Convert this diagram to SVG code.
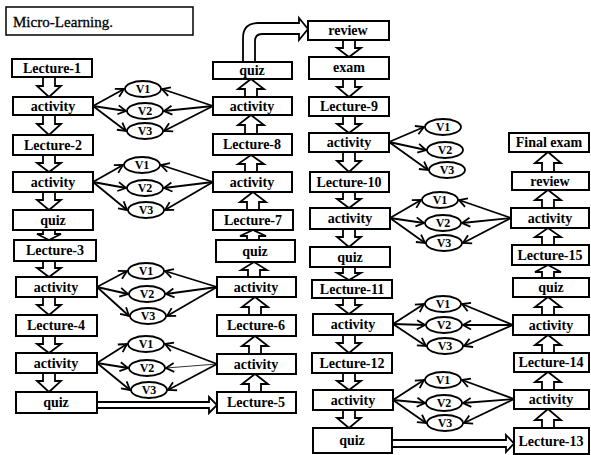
<svg xmlns="http://www.w3.org/2000/svg" width="591" height="455" viewBox="0 0 591 455">
<style>
.box{fill:#fff;stroke:#000;stroke-width:2}
.ell{fill:#fff;stroke:#000;stroke-width:1.8}
.t{font-family:"Liberation Serif","Times New Roman",serif;font-weight:bold;font-size:14px;text-anchor:middle;fill:#000}
.tv{font-family:"Liberation Serif","Times New Roman",serif;font-weight:bold;font-size:12px;text-anchor:middle;fill:#000}
.title{font-family:"Liberation Serif","Times New Roman",serif;font-size:15px;fill:#000;stroke:#000;stroke-width:0.3}
.blk{fill:#fff;stroke:#000;stroke-width:1.8;stroke-linejoin:miter}
.con{stroke:#000;stroke-width:1.8;fill:none;marker-end:url(#ah)}
.thin{stroke-width:0.8}
</style>
<defs>
<marker id="ah" markerUnits="userSpaceOnUse" markerWidth="12" markerHeight="12" refX="10" refY="6" orient="auto">
<path d="M2,1.5 L10,6 L2,10.5" fill="none" stroke="#000" stroke-width="1.8"/>
</marker>
</defs>
<g id="connectors">
<path class="blk" d="M43,77 V86 H37 L49,97 L61,86 H55 V77"/>
<path class="blk" d="M43,115 V124 H37 L49,135 L61,124 H55 V115"/>
<path class="blk" d="M43,155 V163 H37 L49,172 L61,163 H55 V155"/>
<path class="blk" d="M43,192 V200 H37 L49,210 L61,200 H55 V192"/>
<path class="blk" d="M43,230 V234 H37 L49,240 L61,234 H55 V230"/>
<path class="blk" d="M43,261 V268 H37 L49,277 L61,268 H55 V261"/>
<path class="blk" d="M43,297 V305 H37 L49,315 L61,305 H55 V297"/>
<path class="blk" d="M43,336 V344 H37 L49,353 L61,344 H55 V336"/>
<path class="blk" d="M43,373 V381 H37 L49,392 L61,381 H55 V373"/>
<path class="blk" d="M245,97 V89 H238 L251,79 L264,89 H257 V97"/>
<path class="blk" d="M245,134 V125 H238 L251,115 L264,125 H257 V134"/>
<path class="blk" d="M245,172 V164 H238 L251,155 L264,164 H257 V172"/>
<path class="blk" d="M247,210 V202 H240 L253,192 L266,202 H259 V210"/>
<path class="blk" d="M247,240 V236 H240 L253,230 L266,236 H259 V240"/>
<path class="blk" d="M248,277 V270 H241 L254,262 L267,270 H260 V277"/>
<path class="blk" d="M249,315 V307 H242 L255,297 L268,307 H261 V315"/>
<path class="blk" d="M249,354 V346 H242 L255,336 L268,346 H261 V354"/>
<path class="blk" d="M249,392 V384 H242 L255,374 L268,384 H261 V392"/>
<path class="blk" d="M343,40 V48 H337 L349,57 L361,48 H355 V40"/>
<path class="blk" d="M343,79 V87 H337 L349,97 L361,87 H355 V79"/>
<path class="blk" d="M343,116 V124 H337 L349,133 L361,124 H355 V116"/>
<path class="blk" d="M343,152 V161 H337 L349,172 L361,161 H355 V152"/>
<path class="blk" d="M343,192 V199 H337 L349,208 L361,199 H355 V192"/>
<path class="blk" d="M343,229 V237 H337 L349,247 L361,237 H355 V229"/>
<path class="blk" d="M343,267 V273 H337 L349,280 L361,273 H355 V267"/>
<path class="blk" d="M343,298 V305 H337 L349,314 L361,305 H355 V298"/>
<path class="blk" d="M343,335 V343 H337 L349,353 L361,343 H355 V335"/>
<path class="blk" d="M343,373 V381 H337 L349,390 L361,381 H355 V373"/>
<path class="blk" d="M343,410 V418 H337 L349,428 L361,418 H355 V410"/>
<path class="blk" d="M542,172 V163 H535 L548,152 L561,163 H554 V172"/>
<path class="blk" d="M542,208 V200 H535 L548,190 L561,200 H554 V208"/>
<path class="blk" d="M542,245 V237 H535 L548,228 L561,237 H554 V245"/>
<path class="blk" d="M542,278 V272 H535 L548,265 L561,272 H554 V278"/>
<path class="blk" d="M542,315 V307 H535 L548,297 L561,307 H554 V315"/>
<path class="blk" d="M542,353 V345 H535 L548,335 L561,345 H554 V353"/>
<path class="blk" d="M542,390 V382 H535 L548,372 L561,382 H554 V390"/>
<path class="blk" d="M542,428 V420 H535 L548,409 L561,420 H554 V428"/>
<path class="blk" d="M243,62 V38 Q243,23 258,23 H299 V18 L308,29 L299,40 V34 H262 Q255,34 255,41 V62"/>
<path class="blk" d="M97,402 H209 V397 L217,405 L209,413 V408 H97"/>
<path class="blk" d="M392,440 H506 V435 L514,443.5 L506,452 V447 H392"/>
<line class="con" x1="93" y1="106" x2="124" y2="89"/>
<line class="con" x1="93" y1="106" x2="126" y2="111"/>
<line class="con" x1="93" y1="106" x2="126" y2="131"/>
<line class="con" x1="213" y1="106" x2="162" y2="89"/>
<line class="con" x1="213" y1="106" x2="164" y2="111"/>
<line class="con" x1="213" y1="106" x2="164" y2="131"/>
<line class="con" x1="93" y1="182" x2="123" y2="165"/>
<line class="con" x1="93" y1="182" x2="126" y2="188"/>
<line class="con" x1="93" y1="182" x2="127" y2="210"/>
<line class="con" x1="213" y1="182" x2="161" y2="165"/>
<line class="con" x1="213" y1="182" x2="164" y2="188"/>
<line class="con" x1="213" y1="182" x2="165" y2="210"/>
<line class="con" x1="97" y1="287" x2="127" y2="271"/>
<line class="con" x1="97" y1="287" x2="128" y2="294"/>
<line class="con" x1="97" y1="287" x2="129" y2="316"/>
<line class="con" x1="217" y1="287" x2="165" y2="271"/>
<line class="con" x1="217" y1="287" x2="166" y2="294"/>
<line class="con" x1="217" y1="287" x2="167" y2="316"/>
<line class="con" x1="97" y1="363" x2="127" y2="344"/>
<line class="con" x1="97" y1="363" x2="128" y2="368"/>
<line class="con" x1="97" y1="363" x2="130" y2="390"/>
<line class="con" x1="217" y1="364" x2="165" y2="344"/>
<line class="con thin" x1="217" y1="364" x2="166" y2="368"/>
<line class="con" x1="217" y1="364" x2="168" y2="390"/>
<line class="con" x1="389" y1="142" x2="424" y2="127"/>
<line class="con" x1="389" y1="142" x2="426" y2="150"/>
<line class="con" x1="389" y1="142" x2="428" y2="170"/>
<line class="con" x1="390" y1="218" x2="421" y2="200"/>
<line class="con" x1="390" y1="218" x2="424" y2="223"/>
<line class="con" x1="390" y1="218" x2="425" y2="243"/>
<line class="con" x1="511" y1="218" x2="459" y2="200"/>
<line class="con" x1="511" y1="218" x2="462" y2="223"/>
<line class="con" x1="511" y1="218" x2="463" y2="243"/>
<line class="con" x1="393" y1="324" x2="424" y2="304"/>
<line class="con" x1="393" y1="324" x2="425" y2="325"/>
<line class="con" x1="393" y1="324" x2="426" y2="346"/>
<line class="con" x1="513" y1="325" x2="462" y2="304"/>
<line class="con" x1="513" y1="325" x2="463" y2="325"/>
<line class="con" x1="513" y1="325" x2="464" y2="346"/>
<line class="con" x1="393" y1="400" x2="424" y2="380"/>
<line class="con" x1="393" y1="400" x2="425" y2="403"/>
<line class="con" x1="393" y1="400" x2="426" y2="423"/>
<line class="con" x1="514" y1="399" x2="462" y2="380"/>
<line class="con" x1="514" y1="399" x2="463" y2="403"/>
<line class="con" x1="514" y1="399" x2="464" y2="423"/>
</g>
<g id="title"><rect x="6" y="7" width="187" height="28" fill="#fff" stroke="#000" stroke-width="1.5"/><text class="title" x="13" y="27" textLength="100">Micro-Learning.</text></g>
<g id="c1-lecture1"><rect class="box" x="12" y="59" width="80" height="18"/><text class="t" x="52" y="73">Lecture-1</text></g>
<g id="c1-activity1"><rect class="box" x="13" y="97" width="80" height="18"/><text class="t" x="53" y="111">activity</text></g>
<g id="c1-lecture2"><rect class="box" x="13" y="135" width="80" height="20"/><text class="t" x="53" y="150">Lecture-2</text></g>
<g id="c1-activity2"><rect class="box" x="13" y="172" width="80" height="20"/><text class="t" x="53" y="187">activity</text></g>
<g id="c1-quiz1"><rect class="box" x="13" y="210" width="80" height="20"/><text class="t" x="53" y="225">quiz</text></g>
<g id="c1-lecture3"><rect class="box" x="14" y="240" width="82" height="21"/><text class="t" x="55" y="255">Lecture-3</text></g>
<g id="c1-activity3"><rect class="box" x="16" y="277" width="81" height="20"/><text class="t" x="56" y="292">activity</text></g>
<g id="c1-lecture4"><rect class="box" x="16" y="315" width="81" height="21"/><text class="t" x="56" y="330">Lecture-4</text></g>
<g id="c1-activity4"><rect class="box" x="16" y="353" width="81" height="20"/><text class="t" x="56" y="368">activity</text></g>
<g id="c1-quiz2"><rect class="box" x="16" y="392" width="81" height="21"/><text class="t" x="56" y="407">quiz</text></g>
<g id="c2-quiz-top"><rect class="box" x="213" y="62" width="79" height="17"/><text class="t" x="252" y="75">quiz</text></g>
<g id="c2-activity-a"><rect class="box" x="213" y="97" width="79" height="18"/><text class="t" x="252" y="111">activity</text></g>
<g id="c2-lecture8"><rect class="box" x="213" y="134" width="79" height="21"/><text class="t" x="252" y="149">Lecture-8</text></g>
<g id="c2-activity-b"><rect class="box" x="213" y="172" width="79" height="20"/><text class="t" x="252" y="187">activity</text></g>
<g id="c2-lecture7"><rect class="box" x="213" y="210" width="80" height="20"/><text class="t" x="253" y="225">Lecture-7</text></g>
<g id="c2-quiz"><rect class="box" x="216" y="240" width="79" height="22"/><text class="t" x="255" y="256">quiz</text></g>
<g id="c2-activity-c"><rect class="box" x="217" y="277" width="79" height="20"/><text class="t" x="256" y="292">activity</text></g>
<g id="c2-lecture6"><rect class="box" x="217" y="315" width="79" height="21"/><text class="t" x="256" y="330">Lecture-6</text></g>
<g id="c2-activity-d"><rect class="box" x="217" y="354" width="79" height="20"/><text class="t" x="256" y="369">activity</text></g>
<g id="c2-lecture5"><rect class="box" x="217" y="392" width="79" height="21"/><text class="t" x="256" y="407">Lecture-5</text></g>
<g id="c3-review"><rect class="box" x="308" y="21" width="81" height="19"/><text class="t" x="348" y="35">review</text></g>
<g id="c3-exam"><rect class="box" x="309" y="57" width="80" height="22"/><text class="t" x="349" y="72">exam</text></g>
<g id="c3-lecture9"><rect class="box" x="309" y="97" width="80" height="19"/><text class="t" x="349" y="111">Lecture-9</text></g>
<g id="c3-activity-a"><rect class="box" x="309" y="133" width="80" height="19"/><text class="t" x="349" y="147">activity</text></g>
<g id="c3-lecture10"><rect class="box" x="310" y="172" width="79" height="20"/><text class="t" x="349" y="187">Lecture-10</text></g>
<g id="c3-activity-b"><rect class="box" x="310" y="208" width="80" height="21"/><text class="t" x="350" y="223">activity</text></g>
<g id="c3-quiz-a"><rect class="box" x="310" y="247" width="80" height="20"/><text class="t" x="350" y="262">quiz</text></g>
<g id="c3-lecture11"><rect class="box" x="312" y="280" width="80" height="18"/><text class="t" x="352" y="294">Lecture-11</text></g>
<g id="c3-activity-c"><rect class="box" x="313" y="314" width="80" height="21"/><text class="t" x="353" y="329">activity</text></g>
<g id="c3-lecture12"><rect class="box" x="312" y="353" width="80" height="20"/><text class="t" x="352" y="368">Lecture-12</text></g>
<g id="c3-activity-d"><rect class="box" x="313" y="390" width="80" height="20"/><text class="t" x="353" y="405">activity</text></g>
<g id="c3-quiz-b"><rect class="box" x="313" y="428" width="79" height="25"/><text class="t" x="352" y="445">quiz</text></g>
<g id="c4-final-exam"><rect class="box" x="509" y="133" width="80" height="19"/><text class="t" x="549" y="147">Final exam</text></g>
<g id="c4-review"><rect class="box" x="512" y="172" width="77" height="18"/><text class="t" x="550" y="186">review</text></g>
<g id="c4-activity-a"><rect class="box" x="511" y="208" width="78" height="20"/><text class="t" x="550" y="223">activity</text></g>
<g id="c4-lecture15"><rect class="box" x="512" y="245" width="77" height="20"/><text class="t" x="550" y="260">Lecture-15</text></g>
<g id="c4-quiz"><rect class="box" x="513" y="278" width="76" height="19"/><text class="t" x="551" y="292">quiz</text></g>
<g id="c4-activity-b"><rect class="box" x="513" y="315" width="76" height="20"/><text class="t" x="551" y="330">activity</text></g>
<g id="c4-lecture14"><rect class="box" x="514" y="353" width="75" height="19"/><text class="t" x="551" y="367">Lecture-14</text></g>
<g id="c4-activity-c"><rect class="box" x="514" y="390" width="75" height="19"/><text class="t" x="551" y="404">activity</text></g>
<g id="c4-lecture13"><rect class="box" x="514" y="428" width="75" height="26"/><text class="t" x="551" y="446">Lecture-13</text></g>
<g id="a-v1"><ellipse class="ell" cx="143" cy="89" rx="18" ry="8"/><text class="tv" x="143" y="93">V1</text></g>
<g id="a-v2"><ellipse class="ell" cx="145" cy="111" rx="18" ry="8"/><text class="tv" x="145" y="115">V2</text></g>
<g id="a-v3"><ellipse class="ell" cx="145" cy="131" rx="18" ry="8"/><text class="tv" x="145" y="135">V3</text></g>
<g id="b-v1"><ellipse class="ell" cx="142" cy="165" rx="18" ry="8"/><text class="tv" x="142" y="169">V1</text></g>
<g id="b-v2"><ellipse class="ell" cx="145" cy="188" rx="18" ry="8"/><text class="tv" x="145" y="192">V2</text></g>
<g id="b-v3"><ellipse class="ell" cx="146" cy="210" rx="18" ry="8"/><text class="tv" x="146" y="214">V3</text></g>
<g id="c-v1"><ellipse class="ell" cx="146" cy="271" rx="18" ry="8"/><text class="tv" x="146" y="275">V1</text></g>
<g id="c-v2"><ellipse class="ell" cx="147" cy="294" rx="18" ry="8"/><text class="tv" x="147" y="298">V2</text></g>
<g id="c-v3"><ellipse class="ell" cx="148" cy="316" rx="18" ry="8"/><text class="tv" x="148" y="320">V3</text></g>
<g id="d-v1"><ellipse class="ell" cx="146" cy="344" rx="18" ry="8"/><text class="tv" x="146" y="348">V1</text></g>
<g id="d-v2"><ellipse class="ell" cx="147" cy="368" rx="18" ry="8"/><text class="tv" x="147" y="372">V2</text></g>
<g id="d-v3"><ellipse class="ell" cx="149" cy="390" rx="18" ry="8"/><text class="tv" x="149" y="394">V3</text></g>
<g id="e-v1"><ellipse class="ell" cx="443" cy="127" rx="18" ry="8"/><text class="tv" x="443" y="131">V1</text></g>
<g id="e-v2"><ellipse class="ell" cx="445" cy="150" rx="18" ry="8"/><text class="tv" x="445" y="154">V2</text></g>
<g id="e-v3"><ellipse class="ell" cx="447" cy="170" rx="18" ry="8"/><text class="tv" x="447" y="174">V3</text></g>
<g id="f-v1"><ellipse class="ell" cx="440" cy="200" rx="18" ry="8"/><text class="tv" x="440" y="204">V1</text></g>
<g id="f-v2"><ellipse class="ell" cx="443" cy="223" rx="18" ry="8"/><text class="tv" x="443" y="227">V2</text></g>
<g id="f-v3"><ellipse class="ell" cx="444" cy="243" rx="18" ry="8"/><text class="tv" x="444" y="247">V3</text></g>
<g id="g-v1"><ellipse class="ell" cx="443" cy="304" rx="18" ry="8"/><text class="tv" x="443" y="308">V1</text></g>
<g id="g-v2"><ellipse class="ell" cx="444" cy="325" rx="18" ry="8"/><text class="tv" x="444" y="329">V2</text></g>
<g id="g-v3"><ellipse class="ell" cx="445" cy="346" rx="18" ry="8"/><text class="tv" x="445" y="350">V3</text></g>
<g id="h-v1"><ellipse class="ell" cx="443" cy="380" rx="18" ry="8"/><text class="tv" x="443" y="384">V1</text></g>
<g id="h-v2"><ellipse class="ell" cx="444" cy="403" rx="18" ry="8"/><text class="tv" x="444" y="407">V2</text></g>
<g id="h-v3"><ellipse class="ell" cx="445" cy="423" rx="18" ry="8"/><text class="tv" x="445" y="427">V3</text></g>
</svg>
